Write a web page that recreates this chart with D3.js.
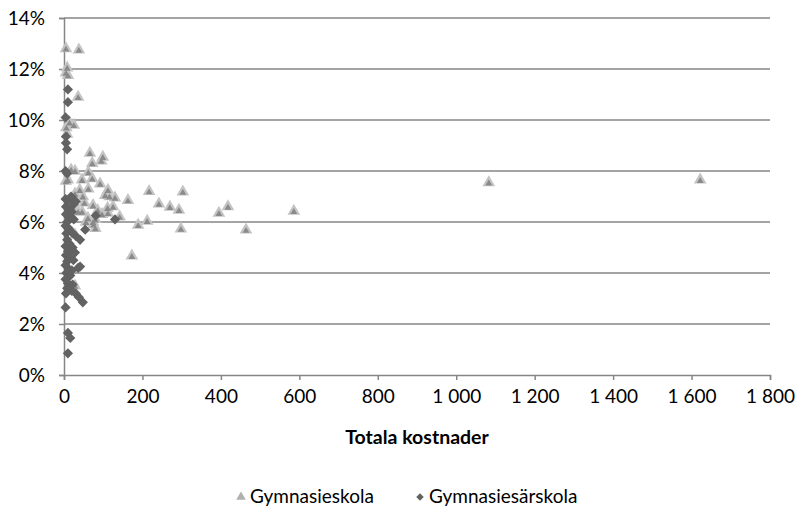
<!DOCTYPE html>
<html>
<head>
<meta charset="utf-8">
<script src="https://cdn.jsdelivr.net/npm/d3@7"></script>
<style>
  html, body { margin: 0; padding: 0; background: #fff; }
  svg { display: block; font-family: Lato, "Open Sans", sans-serif; }
</style>
</head>
<body>
<svg id="chart" width="795" height="511"></svg>
<script>
// Total cost (x) against share (%) per unit
const gymnasieskola = [
  [5, 12.8], [38, 12.75], [8, 12.05], [5, 11.85], [10, 11.75], [36, 10.9],
  [6, 9.7], [25, 9.8], [14, 9.9], [8, 9.45],
  [28, 8.0], [5, 7.6],
  [66, 8.7], [99, 8.55], [72, 8.3], [95, 8.4], [18, 8.05], [62, 7.95],
  [10, 7.65], [46, 7.65], [72, 7.7], [92, 7.5], [40, 7.25], [62, 7.3],
  [112, 7.25], [105, 7.05], [116, 7.0], [130, 6.95], [163, 6.85],
  [217, 7.2], [303, 7.18], [242, 6.71], [270, 6.59], [293, 6.47],
  [395, 6.35], [418, 6.6], [586, 6.43], [189, 5.88], [212, 6.04],
  [298, 5.73], [464, 5.69], [173, 4.67],
  [52, 6.75], [74, 6.65], [86, 6.45], [111, 6.55], [125, 6.6], [46, 6.4],
  [97, 6.3], [112, 6.35], [142, 6.2], [61, 6.15], [74, 6.0], [80, 6.1],
  [75, 5.9], [80, 5.75], [30, 6.9], [20, 6.6], [36, 6.4], [28, 7.1],
  [48, 7.0], [56, 6.0], [28, 5.5], [28, 3.5],
  [1083, 7.55], [1622, 7.65]
];

const gymnasiesarskola = [
  [10, 11.2], [10, 10.7], [4, 10.1], [5, 9.35], [5, 9.1], [8, 8.85],
  [4, 8.0], [8, 7.9],
  [4, 6.9], [10, 6.85], [18, 7.0], [22, 6.9], [25, 6.7], [30, 6.8],
  [5, 6.6], [12, 6.5], [20, 6.4], [5, 6.3], [15, 6.2], [8, 6.0], [25, 6.1],
  [4, 5.85], [12, 5.75], [54, 5.7], [6, 5.55], [20, 5.6], [30, 5.45],
  [8, 5.3], [41, 5.3], [14, 5.15], [4, 5.05], [22, 5.0], [10, 4.85],
  [28, 4.8], [5, 4.7], [16, 4.6], [8, 4.45], [24, 4.5], [41, 4.25],
  [36, 4.2], [4, 4.3], [12, 4.15], [20, 4.1], [6, 4.0], [16, 3.9],
  [4, 3.75], [10, 3.6], [22, 3.55], [8, 3.4], [20, 3.3], [5, 3.2],
  [30, 3.2], [38, 3.05], [48, 2.85], [4, 2.65], [10, 1.65], [16, 1.45],
  [10, 0.85], [81, 6.25], [130, 6.1]
];

const xTicks = [0, 200, 400, 600, 800, 1000, 1200, 1400, 1600, 1800];
const yTicks = [0, 2, 4, 6, 8, 10, 12, 14];
const xTitle = "Totala kostnader";
const seriesNames = ["Gymnasieskola", "Gymnasiesärskola"];

const svg = d3.select("#chart");
const margin = { left: 64, right: 25, top: 18, bottom: 136 };
const W = 795, H = 511;
const x = d3.scaleLinear().domain([0, 1800]).range([margin.left, W - margin.right]);
const y = d3.scaleLinear().domain([0, 14]).range([H - margin.bottom, margin.top]);

const axisColor = "#868686";
const font = "Lato, 'Open Sans', sans-serif";
const fmtX = v => d3.format(",")(v).replace(/,/g, "\u00a0");

// horizontal gridlines
svg.append("g")
  .selectAll("line")
  .data(yTicks.filter(d => d > 0))
  .join("line")
  .attr("x1", x(0)).attr("x2", x(1800))
  .attr("y1", d => y(d)).attr("y2", d => y(d))
  .attr("stroke", axisColor).attr("stroke-width", 1.5);

// y axis
const yAxis = svg.append("g")
  .attr("transform", `translate(${x(0)},0)`)
  .call(d3.axisLeft(y).tickValues(yTicks).tickFormat(d => d + "%").tickSize(5).tickPadding(14));
// x axis
const xAxis = svg.append("g")
  .attr("transform", `translate(0,${y(0)})`)
  .call(d3.axisBottom(x).tickValues(xTicks).tickFormat(fmtX).tickSize(5).tickPadding(10));

[yAxis, xAxis].forEach(g => {
  g.select(".domain").attr("stroke", axisColor).attr("stroke-width", 1.5);
  g.selectAll(".tick line").attr("stroke", axisColor).attr("stroke-width", 1.5);
  g.selectAll(".tick text").attr("fill", "#000").style("font-size", "19px")
    .style("font-family", font);
});

// axis title
svg.append("text")
  .attr("x", (x(0) + x(1800)) / 2).attr("y", 444)
  .attr("text-anchor", "middle")
  .style("font-size", "19.5px").style("font-weight", "bold")
  .text(xTitle);

// markers
const triOuter = d3.symbol().type(d3.symbolTriangle).size(70);
const triInner = d3.symbol().type(d3.symbolTriangle).size(20);
const diamond = d3.symbol().type(d3.symbolSquare).size(52);

const gTri = svg.append("g");
gTri.selectAll("path.o")
  .data(gymnasieskola).join("path").attr("class", "o")
  .attr("d", triOuter)
  .attr("transform", d => `translate(${x(d[0])},${y(d[1])})`)
  .attr("fill", "#c4c4c4");
gTri.selectAll("path.i")
  .data(gymnasieskola).join("path").attr("class", "i")
  .attr("d", triInner)
  .attr("transform", d => `translate(${x(d[0])},${y(d[1]) + 1})`)
  .attr("fill", "#8a8a8a");

svg.append("g").selectAll("path")
  .data(gymnasiesarskola).join("path")
  .attr("d", diamond)
  .attr("transform", d => `translate(${x(d[0])},${y(d[1])}) rotate(45)`)
  .attr("fill", "#626262");

// legend
const lg = svg.append("g").attr("transform", "translate(0,503)");
lg.append("path").attr("d", d3.symbol().type(d3.symbolTriangle).size(40))
  .attr("transform", "translate(241,-6)").attr("fill", "#b0b0b0");
lg.append("text").attr("x", 250).attr("y", 0).style("font-size", "19px").text(seriesNames[0]);
lg.append("path").attr("d", d3.symbol().type(d3.symbolSquare).size(28))
  .attr("transform", "translate(420,-6) rotate(45)").attr("fill", "#626262");
lg.append("text").attr("x", 429).attr("y", 0).style("font-size", "19px").text(seriesNames[1]);
</script>
</body>
</html>
